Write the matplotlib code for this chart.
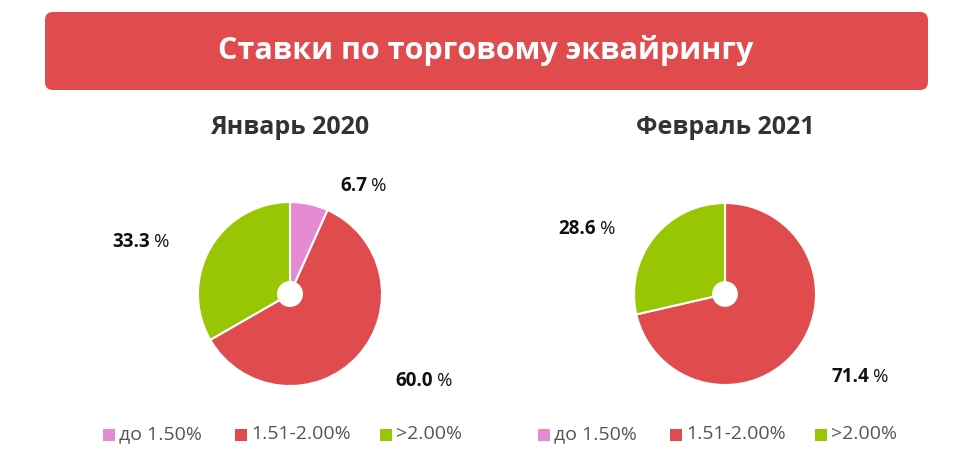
import matplotlib
matplotlib.use("Agg")
import matplotlib.pyplot as plt
from matplotlib.patches import FancyBboxPatch, Rectangle

plt.rcParams["font.family"] = "Open Sans"

categories = ["до 1.50%", "1.51-2.00%", ">2.00%"]
jan2020 = [6.7, 60.0, 33.3]
feb2021 = [0.0, 71.4, 28.6]
titles = ["Январь 2020", "Февраль 2021"]
colors = ["#E68BD2", "#E04B4D", "#98C603"]

W, H = 972, 462
fig = plt.figure(figsize=(W/100, H/100), dpi=100)

def fx(x): return x / W
def fy(y): return 1 - y / H

bg = fig.add_axes([0, 0, 1, 1]); bg.set_xlim(0, W); bg.set_ylim(H, 0); bg.axis("off")
bg.add_patch(FancyBboxPatch((45, 12), 883, 78, boxstyle="round,pad=0,rounding_size=8",
                            fc="#E04B4D", ec="none"))
bg.text(486, 51, "Ставки по торговому эквайрингу", color="white", fontsize=22,
        fontweight="bold", ha="center", va="center")

def pie(cx, cy, r, vals, title, labels_pos):
    ax = fig.add_axes([fx(cx - r), fy(cy + r), 2*r/W, 2*r/H])
    ax.pie(vals, colors=colors, startangle=90, counterclock=False,
           wedgeprops=dict(width=0.87, edgecolor="white", linewidth=1.5))
    ax.set_xlim(-1, 1); ax.set_ylim(-1, 1)
    ax.set_aspect("equal")
    bg.text(cx, 128, title, fontsize=18, fontweight="bold", color="#333333",
            ha="center", va="center")
    for v, pos in zip(vals, labels_pos):
        if v <= 0: continue
        x, y = pos
        bg.text(x, y, f"{v:.1f}", fontsize=13.5, fontweight="bold", ha="right", va="center", color="#111")
        bg.text(x + 4, y, "%", fontsize=13.5, ha="left", va="center", color="#111")
    xs = [cx - 187, cx - 55, cx + 90]
    for i, (c, name) in enumerate(zip(colors, categories)):
        x = xs[i]
        bg.add_patch(Rectangle((x, 429), 12, 12, fc=c, ec="none"))
        bg.text(x + 16, 434, name, fontsize=14, color="#555555", ha="left", va="center")

pie(290, 294, 92, jan2020, titles[0], [(367, 186), (433, 381), (150, 242)])
pie(725, 294, 91, feb2021, titles[1], [(0, 0), (869, 377), (596, 229)])

fig.savefig("out.png", dpi=100)
